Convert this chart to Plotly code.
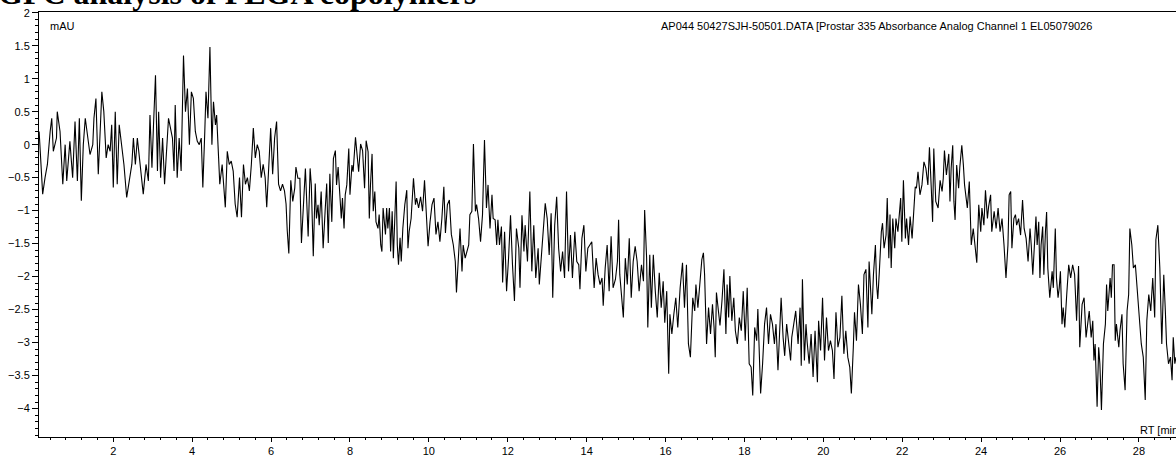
import plotly.graph_objects as go

# Retention time (min) and detector signal (mAU)
rt_a = [0.12, 0.21, 0.27, 0.33, 0.40, 0.44, 0.48, 0.56, 0.58, 0.65, 0.72, 0.78, 0.82, 0.90, 0.97, 1.03, 1.09, 1.14, 1.19, 1.24,
        1.29, 1.34, 1.41, 1.48, 1.51, 1.56, 1.62, 1.66, 1.71, 1.76, 1.82, 1.87, 1.92, 1.96, 2.00, 2.05, 2.10, 2.15, 2.21, 2.27,
        2.34, 2.41, 2.47, 2.51, 2.56, 2.61, 2.66, 2.71, 2.76, 2.83, 2.89, 2.93, 2.98, 3.02, 3.07, 3.12, 3.15, 3.20, 3.25, 3.30,
        3.35, 3.40, 3.45, 3.50, 3.54, 3.57, 3.62, 3.67, 3.72, 3.78, 3.83, 3.88, 3.93, 3.98, 4.03, 4.08, 4.13, 4.18, 4.23, 4.27,
        4.32, 4.35, 4.40, 4.45, 4.50, 4.54, 4.59, 4.62, 4.67, 4.70, 4.76, 4.81, 4.84, 4.89, 4.94, 4.99, 5.04, 5.09, 5.14, 5.20,
        5.25, 5.30, 5.35, 5.40, 5.45, 5.50, 5.55, 5.60, 5.65, 5.70, 5.75, 5.80, 5.85, 5.89, 5.94, 5.99, 6.04, 6.09, 6.14, 6.19,
        6.24, 6.29, 6.34, 6.38, 6.41, 6.45]
mau_a = [0.2, -0.75, -0.5, -0.3, 0.2, 0.4, -0.1, 0.1, 0.5, 0.2, -0.6, 0.0, -0.55, 0.05, -0.5, 0.35, -0.55, 0.4, -0.85, 0.0,
         0.4, 0.2, -0.15, 0.0, 0.4, 0.7, -0.45, 0.1, 0.8, 0.5, -0.2, 0.0, -0.1, 0.3, -0.65, 0.5, -0.6, 0.3, 0.0, -0.3,
         -0.8, -0.5, -0.3, 0.1, -0.3, 0.1, -0.2, -0.4, -0.75, -0.3, -0.55, 0.45, -0.35, 0.3, 1.05, -0.4, 0.5, -0.5, 0.1, -0.6,
         0.0, 0.4, 0.25, 0.1, -0.4, 0.6, -0.5, 0.1, -0.4, 1.35, 0.5, 0.85, 0.0, 0.8, 0.7, 0.2, 0.05, 0.0, 0.1, -0.65,
         0.2, 0.8, 0.4, 1.48, 0.0, 0.65, 0.3, 0.45, -0.2, -0.6, -0.3, -0.7, -0.95, -0.1, -0.3, -0.25, -0.4, -0.9, -1.1, -0.5,
         -1.1, -0.3, -0.6, -0.5, -0.7, -0.3, 0.25, -0.2, 0.0, -0.1, -0.5, -0.3, -0.5, -0.95, -0.4, 0.25, -0.45, 0.1, 0.35, -0.6,
         -0.7, -0.6, -0.7, -0.9, -1.3, -1.65]

rt_b = [6.50, 6.55, 6.60, 6.63, 6.68, 6.73, 6.77, 6.82, 6.87, 6.94, 6.99, 7.02, 7.07, 7.12, 7.15, 7.19, 7.22, 7.27, 7.32, 7.37,
        7.41, 7.45, 7.49, 7.54, 7.58, 7.63, 7.66, 7.70, 7.75, 7.78, 7.81, 7.85, 7.88, 7.92, 7.97, 8.00, 8.05, 8.08, 8.14, 8.19,
        8.22, 8.27, 8.32, 8.37, 8.41, 8.46, 8.49, 8.52, 8.56, 8.59, 8.63, 8.66, 8.71, 8.74, 8.78, 8.81, 8.84, 8.90, 8.93, 8.96,
        9.00, 9.03, 9.07, 9.10, 9.13, 9.17, 9.20, 9.23, 9.27, 9.30, 9.34, 9.39, 9.44, 9.47, 9.50, 9.55, 9.61, 9.66, 9.69, 9.74,
        9.79, 9.84, 9.89, 9.94, 9.98, 10.03, 10.08, 10.13, 10.18, 10.23, 10.28, 10.33, 10.38, 10.42, 10.47, 10.52, 10.57, 10.62,
        10.67, 10.70, 10.75, 10.79, 10.84, 10.87, 10.92, 10.96, 11.01, 11.04, 11.09, 11.13, 11.18, 11.21, 11.26, 11.31, 11.36]
mau_b = [-0.54, -0.86, -0.66, -0.34, -0.51, -0.51, -1.49, -1.01, -0.36, -1.39, -0.36, -0.61, -1.69, -0.59, -1.12, -0.91, -1.22, -0.71, -1.57, -1.01,
         -0.59, -1.49, -0.44, -1.17, -0.21, -0.09, -0.61, -0.34, -0.76, -1.12, -0.81, -1.27, -0.76, -0.61, -0.06, -0.76, -0.31, -0.41, 0.11, -0.21,
         -0.41, 0.01, -0.09, -0.66, 0.06, -0.11, -1.12, -0.61, -0.14, -1.01, -0.71, -1.17, -1.27, -1.06, -1.52, -1.62, -0.96, -1.36, -0.96, -1.27,
         -0.96, -1.62, -1.01, -1.72, -1.32, -0.56, -1.52, -1.82, -1.41, -1.77, -1.27, -0.91, -0.69, -1.57, -1.32, -1.12, -0.51, -0.91, -0.81, -0.96,
         -0.79, -1.01, -0.54, -1.12, -1.54, -1.17, -0.91, -0.81, -1.36, -1.17, -1.47, -1.12, -0.64, -1.34, -0.91, -0.84, -1.36, -1.52,
         -1.77, -2.24, -1.72, -1.27, -1.92, -1.52, -1.72, -1.62, -1.52, -1.06, -1.01, 0.01, -1.01, -0.91, -1.12, -1.47, -1.06]

rt_c = [11.41, 11.46, 11.50, 11.55, 11.60, 11.63, 11.68, 11.72, 11.75, 11.79, 11.84, 11.87, 11.92, 11.97, 12.02, 12.07, 12.12, 12.17, 12.22, 12.28,
        12.31, 12.36, 12.41, 12.44, 12.50, 12.56, 12.61, 12.66, 12.71, 12.77, 12.80, 12.85, 12.90, 12.95, 13.00, 13.05, 13.10, 13.14, 13.19, 13.24,
        13.29, 13.34, 13.39, 13.44, 13.49, 13.54, 13.59, 13.64, 13.70, 13.75, 13.80, 13.83, 13.88, 13.93, 13.98, 14.03, 14.08, 14.13, 14.19, 14.24,
        14.29, 14.34, 14.39, 14.42, 14.47, 14.52, 14.57, 14.62, 14.67, 14.73, 14.78, 14.81, 14.84, 14.89, 14.93, 14.98, 15.03, 15.08, 15.13, 15.18,
        15.23, 15.28, 15.33, 15.39, 15.44, 15.47, 15.52, 15.55, 15.60, 15.64, 15.69, 15.74, 15.79, 15.84, 15.89, 15.94, 15.98, 16.03, 16.08, 16.11,
        16.16, 16.21, 16.26, 16.31, 16.37]
mau_c = [0.07, -0.96, -0.61, -1.27, -0.76, -1.12, -1.14, -1.52, -1.14, -1.52, -1.24, -2.09, -1.32, -2.22, -1.72, -1.07, -1.82, -2.37, -1.27, -1.57,
         -2.17, -1.07, -1.62, -1.22, -1.77, -0.71, -1.92, -1.22, -2.02, -1.57, -2.12, -1.67, -1.27, -0.89, -1.12, -1.67, -1.04, -2.32, -1.22, -0.79,
         -1.57, -1.92, -1.62, -2.02, -0.71, -1.92, -1.37, -2.02, -1.32, -1.77, -1.82, -2.19, -1.42, -1.22, -1.92, -1.57, -1.52, -1.47, -2.17, -1.72,
         -1.97, -2.12, -2.02, -2.44, -1.87, -1.52, -2.22, -1.39, -2.17, -2.04, -1.77, -1.14, -1.97, -2.27, -2.62, -1.72, -2.12, -1.42, -2.32, -1.77,
         -1.54, -1.77, -2.22, -1.82, -2.07, -0.99, -1.72, -2.77, -1.67, -2.47, -1.67, -2.22, -2.62, -1.94, -2.47, -2.07, -2.70, -2.22, -3.47, -2.57,
         -2.87, -2.57, -2.32, -2.77, -2.17]

rt_d = [16.43, 16.48, 16.53, 16.58, 16.63, 16.69, 16.74, 16.77, 16.82, 16.87, 16.92, 16.96, 16.99, 17.04, 17.09, 17.14, 17.19, 17.23, 17.26, 17.29,
        17.35, 17.38, 17.43, 17.48, 17.53, 17.56, 17.60, 17.63, 17.68, 17.73, 17.77, 17.82, 17.87, 17.92, 17.97, 18.02, 18.07, 18.12, 18.17, 18.21,
        18.26, 18.31, 18.34, 18.38, 18.41, 18.46, 18.51, 18.56, 18.61, 18.66, 18.71, 18.76, 18.80, 18.85, 18.90, 18.93, 18.98, 19.02, 19.07, 19.12,
        19.17, 19.20, 19.25, 19.30, 19.36, 19.41, 19.44, 19.47, 19.52, 19.56, 19.59, 19.64, 19.69, 19.74, 19.79, 19.85, 19.88, 19.93, 19.98, 20.03,
        20.08, 20.13, 20.18, 20.23, 20.27, 20.32, 20.37, 20.42, 20.47, 20.52, 20.57, 20.62, 20.67, 20.71, 20.76, 20.79, 20.84, 20.89, 20.94, 20.99,
        21.03, 21.08, 21.13, 21.16]
mau_d = [-1.79, -2.47, -1.82, -3.02, -3.22, -2.32, -2.52, -2.12, -2.47, -2.02, -1.74, -1.64, -1.97, -3.02, -2.47, -2.87, -2.42, -2.77, -3.22, -2.24,
         -2.62, -2.74, -2.37, -1.89, -2.87, -2.12, -2.62, -1.99, -2.67, -2.32, -2.82, -3.02, -2.62, -2.82, -2.22, -2.97, -2.17, -3.32, -3.37, -3.80,
         -2.77, -2.97, -2.49, -3.27, -3.77, -3.32, -2.72, -2.47, -3.02, -2.57, -2.72, -3.02, -2.72, -3.42, -2.72, -2.32, -2.92, -3.20, -2.72, -2.97,
         -3.27, -2.92, -2.72, -2.52, -3.02, -2.47, -3.35, -2.04, -3.27, -2.72, -2.99, -3.32, -2.87, -3.52, -2.82, -3.60, -2.67, -3.12, -2.32, -3.27,
         -2.62, -3.12, -2.97, -3.12, -3.55, -2.54, -3.07, -2.92, -2.29, -3.17, -2.82, -3.22, -3.37, -3.77, -3.07, -2.54, -2.97, -2.12, -2.42, -2.87,
         -1.97, -1.89, -2.77, -1.77]

rt_e = [21.20, 21.23, 21.27, 21.32, 21.35, 21.38, 21.42, 21.47, 21.50, 21.54, 21.59, 21.62, 21.66, 21.69, 21.72, 21.76, 21.81, 21.84, 21.89, 21.92,
        21.96, 21.99, 22.03, 22.08, 22.11, 22.16, 22.20, 22.25, 22.30, 22.33, 22.36, 22.40, 22.45, 22.50, 22.55, 22.60, 22.65, 22.69, 22.74, 22.77,
        22.80, 22.85, 22.91, 22.96, 23.01, 23.04, 23.07, 23.12, 23.18, 23.21, 23.24, 23.28, 23.31, 23.34, 23.38, 23.43, 23.46, 23.51, 23.55, 23.58,
        23.62, 23.65, 23.70, 23.75, 23.80, 23.85, 23.89, 23.94, 23.99, 24.02, 24.07, 24.11, 24.16, 24.19, 24.24, 24.27, 24.33, 24.38, 24.43, 24.48,
        24.53, 24.58, 24.63, 24.68, 24.71, 24.75, 24.78, 24.83, 24.87, 24.90, 24.95, 25.00, 25.05, 25.09, 25.14, 25.19, 25.24]
mau_e = [-2.22, -2.57, -1.97, -1.52, -2.12, -2.34, -1.92, -1.32, -1.19, -1.57, -1.37, -0.81, -1.72, -1.06, -1.87, -1.12, -1.57, -1.12, -1.32, -1.12,
         -0.81, -1.47, -0.54, -1.42, -1.12, -1.52, -1.09, -1.42, -0.86, -0.64, -0.66, -0.41, -0.76, -0.61, -0.26, -0.36, -0.61, -0.04, -0.71, -1.17,
         -0.06, -0.86, -0.96, -0.54, -0.71, -0.51, -0.09, -0.46, -0.14, -0.86, -0.36, -0.01, -0.86, -1.14, -0.31, -0.66, -0.34, -0.01, -0.31, -0.61,
         -0.81, -0.96, -0.56, -1.52, -1.27, -1.52, -1.79, -0.91, -1.32, -0.96, -1.22, -0.69, -1.12, -0.94, -0.76, -1.32, -1.01, -1.27, -0.96, -1.32,
         -1.12, -1.52, -2.02, -1.52, -0.76, -0.71, -1.57, -1.12, -1.06, -1.22, -1.12, -1.37, -0.84, -1.27, -1.42, -1.77, -1.27]

rt_f = [25.27, 25.31, 25.36, 25.39, 25.42, 25.46, 25.49, 25.52, 25.56, 25.59, 25.63, 25.66, 25.69, 25.74, 25.80, 25.83, 25.88, 25.91, 25.95, 25.98,
        26.01, 26.05, 26.08, 26.12, 26.17, 26.22, 26.27, 26.32, 26.37, 26.42, 26.47, 26.50, 26.56, 26.61, 26.66, 26.71, 26.74, 26.79, 26.83, 26.86,
        26.89, 26.94, 26.98, 27.01, 27.05, 27.10, 27.15, 27.18, 27.21, 27.27, 27.30, 27.33, 27.37, 27.40, 27.43, 27.49, 27.52, 27.57, 27.60, 27.65,
        27.70, 27.74, 27.77, 27.82, 27.86, 27.91, 27.96, 28.01, 28.06, 28.11, 28.16, 28.20, 28.25, 28.30, 28.35, 28.40, 28.43, 28.48, 28.53, 28.58,
        28.63, 28.67, 28.70, 28.75, 28.80, 28.84, 28.87, 28.91, 28.94]
mau_f = [-1.52, -1.97, -1.42, -1.09, -1.52, -1.17, -2.02, -1.52, -1.24, -1.97, -1.32, -1.02, -1.87, -2.32, -1.92, -2.17, -1.27, -2.02, -2.32, -2.17,
         -1.92, -2.72, -2.47, -2.77, -2.27, -1.82, -2.02, -1.82, -1.97, -2.67, -1.84, -3.07, -2.42, -2.32, -2.92, -2.62, -2.52, -2.92, -2.67, -3.27,
         -3.02, -3.97, -3.07, -3.32, -4.02, -3.02, -2.72, -2.12, -2.52, -2.02, -2.32, -1.82, -1.82, -2.97, -2.72, -3.07, -2.82, -2.57, -3.32, -3.72,
         -2.52, -2.27, -1.27, -1.52, -1.87, -1.82, -2.27, -2.62, -3.02, -3.22, -3.87, -2.67, -2.27, -2.52, -2.02, -2.62, -1.44, -1.22, -1.87, -3.02,
         -1.97, -2.52, -3.02, -3.32, -3.22, -3.57, -2.92, -3.32, -3.22]

rt_min = rt_a + rt_b + rt_c + rt_d + rt_e + rt_f
signal_mau = mau_a + mau_b + mau_c + mau_d + mau_e + mau_f

title_text = "GPC analysis of PLGA copolymers"
header_text = "AP044 50427SJH-50501.DATA [Prostar 335 Absorbance Analog Channel 1 EL05079026"
y_unit = "mAU"
x_unit = "RT [min]"

fig = go.Figure()
fig.add_trace(go.Scatter(x=rt_min, y=signal_mau, mode="lines",
                         line=dict(color="black", width=1.1), hoverinfo="skip"))

axis_font = dict(family="Liberation Sans, Arial, sans-serif", size=11, color="black")

fig.update_layout(
    width=1176, height=457,
    margin=dict(l=39, r=0, t=12, b=17),
    paper_bgcolor="white", plot_bgcolor="white",
    showlegend=False,
    font=axis_font,
    xaxis=dict(range=[0.117, 28.94], showgrid=False, zeroline=False,
               showline=True, linecolor="black", linewidth=1, mirror=True,
               ticks="outside", ticklen=4, tickcolor="black", tickwidth=1,
               tick0=0, dtick=2, tickfont=axis_font,
               minor=dict(ticks="outside", ticklen=2, tickcolor="black", dtick=0.4, tick0=0, showgrid=False)),
    yaxis=dict(range=[-4.43, 2.01], showgrid=False, zeroline=False,
               showline=True, linecolor="black", linewidth=1,
               ticks="outside", ticklen=6, tickcolor="black", tickwidth=1,
               tick0=0, dtick=0.5, tickfont=axis_font,
               minor=dict(ticks="outside", ticklen=3, tickcolor="black", dtick=0.1, tick0=0, showgrid=False)),
    annotations=[
        dict(text=y_unit, xref="paper", yref="paper", x=0.0079, y=0.967, xanchor="left", yanchor="middle",
             showarrow=False, font=axis_font),
        dict(text=header_text, xref="paper", yref="paper", x=0.928, y=0.967, xanchor="right", yanchor="middle",
             showarrow=False, font=axis_font),
        dict(text=x_unit, xref="paper", yref="paper", x=0.9665, y=0.016, xanchor="left", yanchor="middle",
             showarrow=False, font=axis_font),
        dict(text="<b>" + title_text + "</b>", xref="paper", yref="paper", x=-0.038, y=0.997, xanchor="left",
             yanchor="bottom", showarrow=False,
             font=dict(family="Liberation Serif, Times New Roman, serif", size=32, color="black")),
    ],
)

fig.write_html("out.html", config={"displayModeBar": False},
               post_script="document.body.style.margin='0';document.body.style.overflow='hidden';")
